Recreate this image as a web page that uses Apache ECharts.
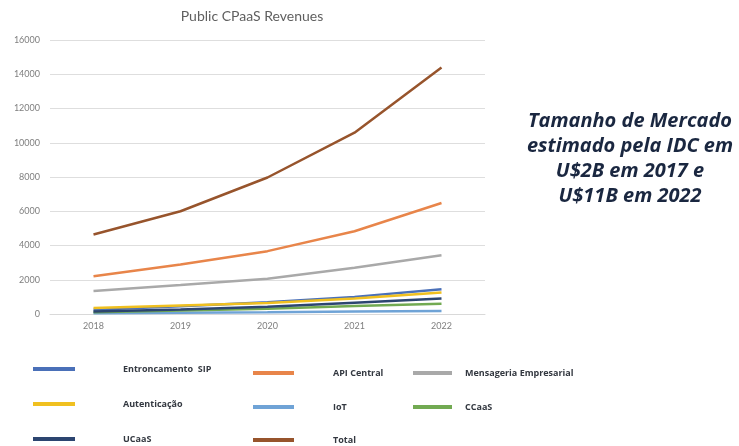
<!DOCTYPE html>
<html>
<head>
<meta charset="utf-8">
<script src="https://cdn.jsdelivr.net/npm/echarts@6/dist/echarts.min.js"></script>
<style>
html, body { margin: 0; padding: 0; background: #fff; }
#myChart { width: 739px; height: 446px; }
</style>
</head>
<body>
<div id="myChart"></div>
<script>
// dados
let years = ['2018', '2019', '2020', '2021', '2022']
let yTicks = [0, 2000, 4000, 6000, 8000, 10000, 12000, 14000, 16000]

let entroncamentoSip = [250, 450, 680, 1000, 1450]
let apiCentral = [2210, 2890, 3670, 4830, 6480]
let mensageria = [1350, 1690, 2060, 2700, 3430]
let autenticacao = [350, 500, 640, 900, 1260]
let iot = [40, 70, 100, 140, 180]
let ccaas = [100, 200, 310, 470, 600]
let ucaas = [150, 260, 420, 660, 900]
let total = [4640, 6000, 7970, 10590, 14390]

let seriesNames = ['Entroncamento  SIP', 'API Central', 'Mensageria Empresarial', 'Autenticação', 'IoT', 'CCaaS', 'UCaaS', 'Total']
let seriesData = [entroncamentoSip, apiCentral, mensageria, autenticacao, iot, ccaas, ucaas, total]
let colors = ['#4a70b8', '#e8854a', '#a9a9a9', '#f0c020', '#6fa3d6', '#72aa52', '#2c4570', '#97542c']

// posição de cada item da legenda: [x do ícone, centro y, espaço até o texto, largura do ícone]
let legendPos = [
    [33, 369, 43, 42],
    [253, 373, 34, 41],
    [413, 373, 8, 39],
    [33, 404, 43, 42],
    [253, 407, 34, 41],
    [413, 407, 8, 39],
    [33, 439, 43, 42],
    [253, 440, 34, 41]
]

let myChart = echarts.init(document.getElementById('myChart'))

let legends = seriesNames.map((name, i) => ({
    data: [name],
    left: legendPos[i][0],
    top: legendPos[i][1] - 7,
    padding: 0,
    itemWidth: legendPos[i][3],
    itemHeight: 4,
    icon: 'rect',
    selectedMode: false,
    textStyle: {
        fontFamily: 'Open Sans',
        fontWeight: 'bold',
        fontSize: 9,
        color: '#333840',
        lineHeight: 14,
        padding: [0, 0, 0, legendPos[i][2]]
    }
}))

let option = {
    color: colors,
    animation: false,
    title: [
        {
            text: 'Public CPaaS Revenues',
            left: 252,
            top: 9,
            padding: 0,
            textAlign: 'center',
            textStyle: {
                fontFamily: 'Lato',
                fontWeight: 'normal',
                fontSize: 14,
                color: '#5f5f5f'
            }
        },
        {
            text: 'Tamanho de Mercado\nestimado pela IDC em\nU$2B em 2017 e\nU$11B em 2022',
            left: 630,
            top: 109,
            padding: 0,
            textAlign: 'center',
            textStyle: {
                fontFamily: 'Open Sans',
                fontStyle: 'italic',
                fontWeight: 'bold',
                fontSize: 20,
                lineHeight: 25,
                color: '#1a2740'
            }
        }
    ],
    legend: legends,
    grid: {
        left: 50,
        right: 254,
        top: 40,
        bottom: 132
    },
    xAxis: {
        type: 'category',
        data: years,
        axisTick: { show: false },
        axisLine: { lineStyle: { color: '#d9d9d9', width: 1 } },
        axisLabel: {
            color: '#7f7f7f',
            fontSize: 9,
            fontFamily: 'Lato',
            margin: 8
        }
    },
    yAxis: {
        type: 'value',
        min: yTicks[0],
        max: yTicks[yTicks.length - 1],
        interval: 2000,
        axisLine: { show: false },
        axisTick: { show: false },
        splitLine: { lineStyle: { color: '#dedede', width: 1 } },
        axisLabel: {
            color: '#7f7f7f',
            fontSize: 9,
            fontFamily: 'Lato',
            margin: 10,
            formatter: (v) => String(v)
        }
    },
    series: seriesNames.map((name, i) => ({
        name: name,
        type: 'line',
        data: seriesData[i],
        symbol: 'none',
        smooth: false,
        lineStyle: { width: 2.5, color: colors[i] },
        itemStyle: { color: colors[i] },
        z: i === 7 ? 3 : 2
    }))
}
myChart.setOption(option)

window.addEventListener('resize', () => {
    myChart.resize()
})
</script>
</body>
</html>
